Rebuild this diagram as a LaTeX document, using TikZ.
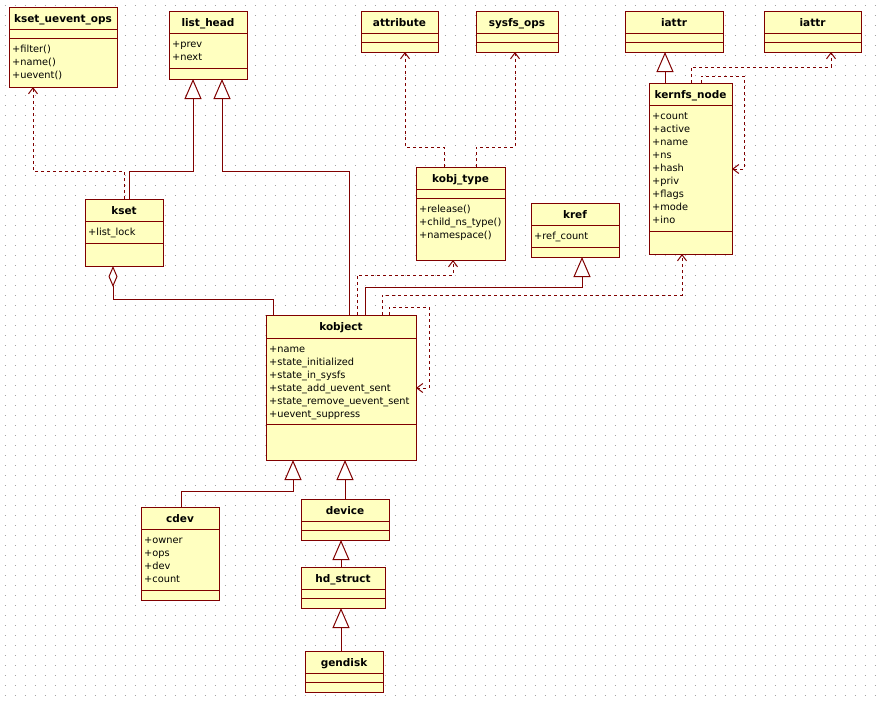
\documentclass[tikz,border=0pt]{standalone}
\usepackage{fontspec}
\setmainfont{DejaVu Sans}
\usetikzlibrary{arrows.meta}
\definecolor{umlred}{RGB}{128,0,0}
\definecolor{umlfill}{RGB}{255,255,192}
\definecolor{dotgray}{RGB}{165,165,165}
\tikzset{
  umlline/.style={draw=umlred, line width=1pt},
  cls/.style={umlline, fill=umlfill, inner sep=0pt, outer sep=0pt, rectangle},
  clstitle/.style={inner sep=0pt, font=\bfseries\fontsize{10.5}{12}\selectfont},
  clsattr/.style={inner sep=0pt, font=\fontsize{9.8}{12}\selectfont},
  gen/.style={umlline, -{Triangle[length=20pt,width=17pt,fill=white]}},
  dep/.style={umlline, dash pattern=on 3pt off 3pt, -{Straight Barb[length=6pt,width=9pt]}},
  agg/.style={umlline, -{Diamond[length=21pt,width=9pt,fill=white]}},
  griddot/.style={draw=dotgray, line width=1pt, dash pattern=on 1pt off 9pt}
}
\newcommand\umlclass[8]{%
  \node[cls, anchor=north west, minimum width={(#4-#2)*1pt}, minimum height={(#5-#3)*1pt}] (#1) at (#2,#3) {};
  \node[clstitle, anchor=base] (#1-t) at ({(#2+#4)/2},{#3+15}) {#6};
  \draw[umlline] (#2,#7) -- (#4,#7) (#2,#8) -- (#4,#8);
}
\newcommand\umlattrs[4]{%
  \foreach \t [count=\i from 0] in {#4}
    \node[clsattr, anchor=base west] (#1-a\i) at ({#2+3},{#3+14+13*\i}) {\t};
}
\begin{document}
\begin{tikzpicture}[x=1pt,y=-1pt]
\path[use as bounding box, fill=white] (0,0) rectangle (880,704);
\foreach \y in {5,15,...,695} \draw[griddot] (4.5,\y) -- (880,\y);

% classes
\umlclass{kuo}{9}{7}{117}{87}{kset\_uevent\_ops}{29}{38}
\umlattrs{kuo}{9}{38}{+filter(),+name(),+uevent()}
\umlclass{lh}{169}{11}{247}{79}{list\_head}{33}{68}
\umlattrs{lh}{169}{33}{+prev,+next}
\umlclass{attr}{361}{11}{438}{52}{attribute}{33}{42}
\umlclass{sops}{476}{11}{558}{52}{sysfs\_ops}{33}{42}
\umlclass{iattrA}{625}{11}{723}{52}{iattr}{33}{42}
\umlclass{iattrB}{764}{11}{861}{52}{iattr}{33}{42}
\umlclass{kn}{649}{83}{732}{254}{kernfs\_node}{105}{231}
\umlattrs{kn}{649}{105}{+count,+active,+name,+ns,+hash,+priv,+flags,+mode,+ino}
\umlclass{kt}{416}{167}{505}{260}{kobj\_type}{189}{198}
\umlattrs{kt}{416}{198}{+release(),+child\_ns\_type(),+namespace()}
\umlclass{kref}{531}{203}{619}{257}{kref}{225}{247}
\umlattrs{kref}{531}{225}{+ref\_count}
\umlclass{kset}{85}{199}{163}{266}{kset}{221}{243}
\umlattrs{kset}{85}{221}{+list\_lock}
\umlclass{kobj}{266}{315}{416}{460}{kobject}{338}{424}
\umlattrs{kobj}{266}{338}{+name,+state\_initialized,+state\_in\_sysfs,+state\_add\_uevent\_sent,+state\_remove\_uevent\_sent,+uevent\_suppress}
\umlclass{cdev}{141}{507}{219}{600}{cdev}{529}{590}
\umlattrs{cdev}{141}{529}{+owner,+ops,+dev,+count}
\umlclass{dev}{301}{499}{389}{540}{device}{521}{530}
\umlclass{hd}{301}{567}{385}{608}{hd\_struct}{589}{598}
\umlclass{gd}{305}{651}{383}{692}{gendisk}{673}{682}

% connectors
\draw[dep] (kset.north -| 124,0) |- (33,171) -- (kuo.south -| 33,0);
\draw[gen] (kset.north -| 129,0) |- (193,171) -- (lh.south -| 193,0);
\draw[gen] (kobj.north -| 349,0) |- (222,171) -- (lh.south -| 222,0);
\draw[agg] (kobj.north -| 273,0) |- (113,299) -- (kset.south -| 113,0);
\draw[dep] (kobj.north -| 357,0) |- (453,275) -- (kt.south -| 453,0);
\draw[gen] (kobj.north -| 365,0) |- (582,287) -- (kref.south -| 582,0);
\draw[dep] (kobj.north -| 382,0) |- (682,295) -- (kn.south -| 682,0);
\draw[dep] (kobj.north -| 389,0) |- (429,307) |- (kobj.east |- 0,388);
\draw[dep] (kt.north -| 444,0) |- (405,147) -- (attr.south -| 405,0);
\draw[dep] (kt.north -| 476,0) |- (515,147) -- (sops.south -| 515,0);
\draw[gen] (kn.north -| 665,0) -- (iattrA.south -| 665,0);
\draw[dep] (kn.north -| 691,0) |- (831,67) -- (iattrB.south -| 831,0);
\draw[dep] (kn.north -| 701,0) |- (744,76) |- (kn.east |- 0,169);
\draw[gen] (cdev.north -| 181,0) |- (293,491) -- (kobj.south -| 293,0);
\draw[gen] (dev.north -| 345,0) -- (kobj.south -| 345,0);
\draw[gen] (hd.north -| 341,0) -- (dev.south -| 341,0);
\draw[gen] (gd.north -| 341,0) -- (hd.south -| 341,0);
\end{tikzpicture}
\end{document}
